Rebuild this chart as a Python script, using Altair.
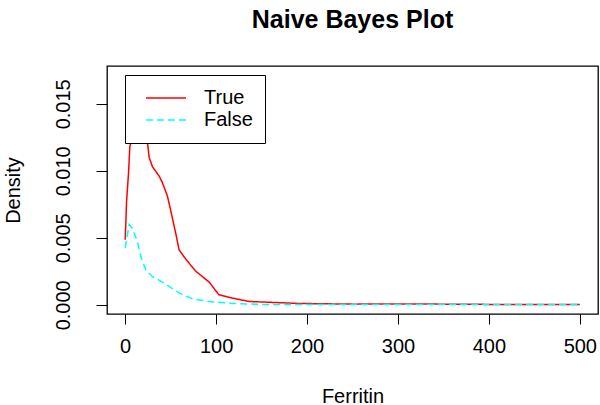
import altair as alt
import pandas as pd

# True class density (Ferritin)
true_x = [0, 0.7, 1.5, 3.7, 5.1, 6.2, 8, 10, 13, 16, 19, 22, 24.5, 26.4, 30, 37.4, 41,
          46.5, 50.2, 55.7, 59.3, 66.7, 77.7, 92.3, 103, 118, 136, 173, 191, 250, 320,
          400, 500]
true_y = [0.00485, 0.0061, 0.0077, 0.00985, 0.0118, 0.0121, 0.0143, 0.0158, 0.0168,
          0.0166, 0.0158, 0.0137, 0.0121, 0.0110, 0.0103, 0.0096, 0.0091, 0.0081, 0.0070,
          0.0053, 0.0041, 0.0034, 0.0025, 0.0017, 0.00075, 0.0005, 0.00025, 0.00015,
          0.0001, 0.00005, 0.00006, 0.00003, 0.00002]

# False class density (Ferritin)
false_x = [0, 4.4, 8, 13.5, 17.2, 22.7, 30, 41, 52, 63, 74, 92, 118, 150, 250, 400, 500]
false_y = [0.00425, 0.0060, 0.0057, 0.0047, 0.0036, 0.0026, 0.0021, 0.0017, 0.0012,
           0.00075, 0.00045, 0.00025, 0.0001, 0.00003, 0.00002, 0.00002, 0.00002]

classes = ["True", "False"]
x_ticks = [0, 100, 200, 300, 400, 500]
y_ticks = [0.0, 0.005, 0.010, 0.015]

df = pd.concat([
    pd.DataFrame({"Ferritin": true_x, "Density": true_y, "cls": "True"}),
    pd.DataFrame({"Ferritin": false_x, "Density": false_y, "cls": "False"}),
])

FONT = "Liberation Sans"

legend_opts = dict(title=None, orient="none", legendX=18, legendY=9,
                   symbolType="stroke", symbolSize=1600, symbolStrokeWidth=1.5,
                   symbolOffset=8, labelFontSize=20, labelFont=FONT,
                   labelColor="black", labelOffset=17, padding=12, rowPadding=0,
                   clipHeight=22, strokeColor="black", fillColor="white",
                   cornerRadius=0)

chart = alt.Chart(df).mark_line(strokeWidth=1.5, clip=True).encode(
    x=alt.X("Ferritin:Q",
            scale=alt.Scale(domain=[-20, 520], nice=False, zero=False),
            axis=alt.Axis(values=x_ticks, title="Ferritin", grid=False, domain=False,
                          tickSize=10, tickColor="black", labelColor="black",
                          labelFontSize=20, labelFont=FONT, labelPadding=12,
                          labelFlush=False,
                          titleFont=FONT, titleFontSize=20, titleFontWeight="normal",
                          titleColor="black", titleY=88, titleBaseline="alphabetic")),
    y=alt.Y("Density:Q",
            scale=alt.Scale(domain=[-0.000686, 0.01782], nice=False, zero=False),
            axis=alt.Axis(values=y_ticks, format=".3f", title="Density", grid=False,
                          domain=False, tickSize=11, tickColor="black",
                          labelColor="black", labelFontSize=20, labelFont=FONT,
                          labelAngle=270, labelAlign="center",
                          labelBaseline="alphabetic", labelPadding=27,
                          labelFlush=False,
                          titleFont=FONT, titleFontSize=20, titleFontWeight="normal",
                          titleColor="black", titleAngle=270, titleX=-88, titleY=124,
                          titleAlign="center", titleBaseline="alphabetic")),
    color=alt.Color("cls:N",
                    scale=alt.Scale(domain=classes, range=["#FF0000", "#00FFFF"]),
                    legend=alt.Legend(**legend_opts)),
    strokeDash=alt.StrokeDash("cls:N",
                              scale=alt.Scale(domain=classes, range=[[1, 0], [7, 4]]),
                              legend=alt.Legend(**legend_opts)),
).properties(
    width=491, height=248,
    background="white",
    title=alt.TitleParams("Naive Bayes Plot", font=FONT, fontSize=25, fontWeight="bold",
                          color="black", anchor="middle", baseline="alphabetic",
                          offset=13),
    autosize=alt.AutoSizeParams(type="none"),
    padding={"left": 107, "top": 66, "right": 2, "bottom": 91},
).configure_view(stroke="black", strokeWidth=1.3)

chart.save("out.html", embed_options={"renderer": "svg", "actions": False})
